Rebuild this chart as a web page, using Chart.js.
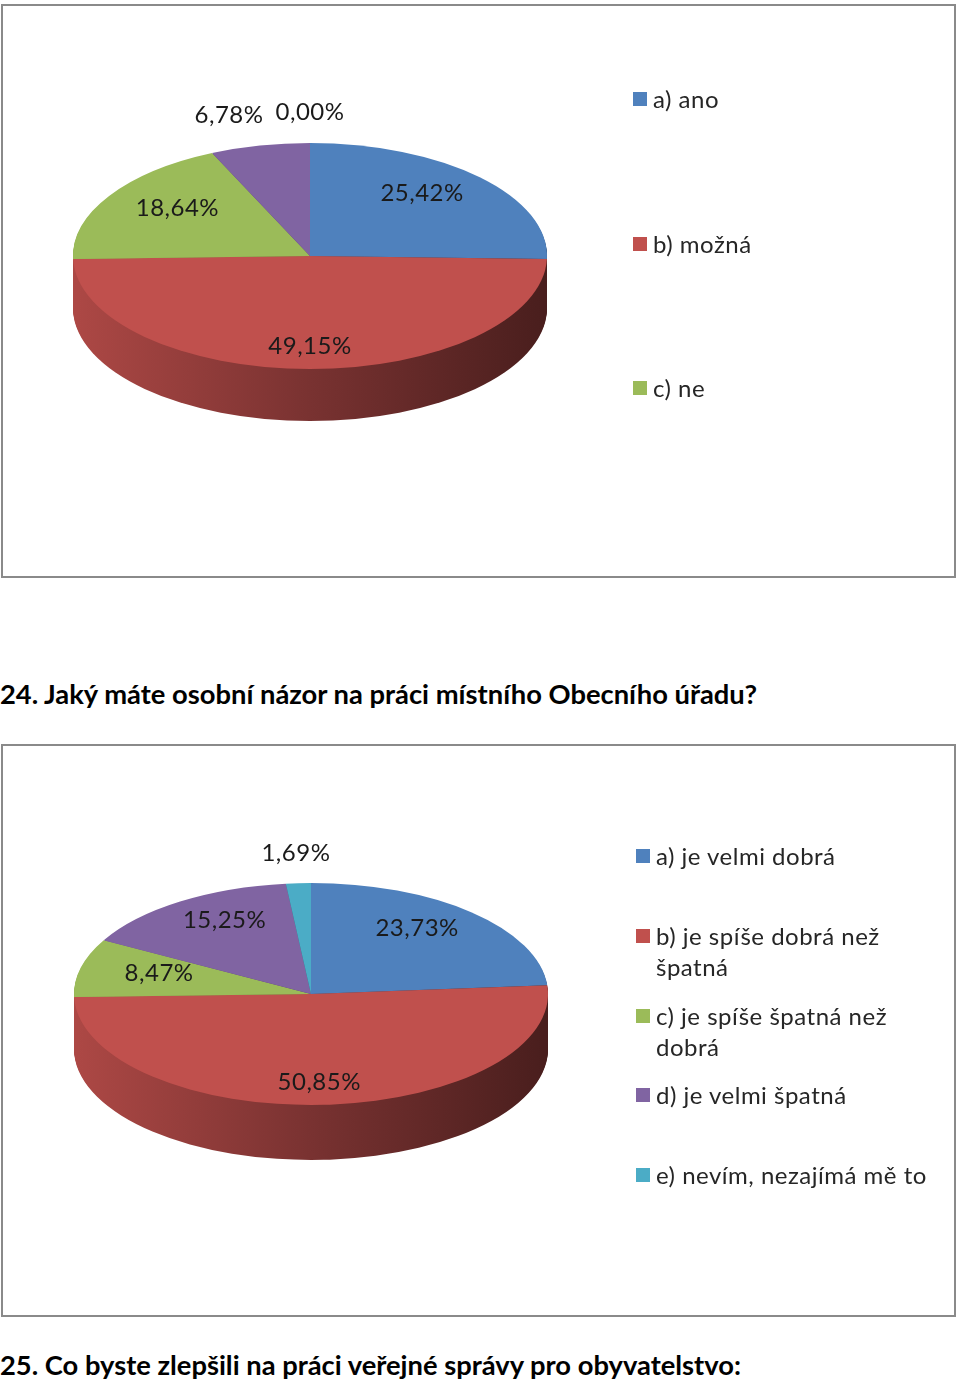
<!DOCTYPE html>
<html>
<head>
<meta charset="utf-8">
<script src="https://cdn.jsdelivr.net/npm/chart.js@4.4.0/dist/chart.umd.min.js"></script>
<style>
  html, body { margin: 0; padding: 0; background: #fff; }
  body { width: 960px; height: 1382px; position: relative; overflow: hidden; font-family: Lato, "Open Sans", sans-serif; }
  .box { position: absolute; border: 2px solid #8a8a8a; box-sizing: border-box; background: #fff; }
  .box canvas { position: absolute; left: 0; top: 0; }
  .li { position: absolute; font-size: 24px; letter-spacing: 0.5px; color: #262626; white-space: nowrap; line-height: 31px; }
  .sw { position: absolute; width: 14px; height: 14px; top: 9px; }
  .title { position: absolute; left: 0; font-weight: bold; font-size: 27px; color: #000; white-space: nowrap; transform-origin: 0 50%; line-height: 30px; }
</style>
</head>
<body>
<div id="root"></div>
<script>
// ---------- data ----------
const sliceColors = ['#4F81BD', '#C0504D', '#9BBB59', '#8064A2', '#4BACC6'];

const categories1 = ['a) ano', 'b) možná', 'c) ne', '', ''];
const values1 = [25.42, 49.15, 18.64, 6.78, 0.00];

const categories2 = [
  'a) je velmi dobrá',
  ['b) je spíše dobrá než', 'špatná'],
  ['c) je spíše špatná než', 'dobrá'],
  'd) je velmi špatná',
  'e) nevím, nezajímá mě to'
];
const values2 = [23.73, 50.85, 8.47, 15.25, 1.69];

const title1 = '24. Jaký máte osobní názor na práci místního Obecního úřadu?';
const title2 = '25. Co byste zlepšili na práci veřejné správy pro obyvatelstvo:';

// ---------- layout ----------
const layouts = [
  { box: { x: 1, y: 4, w: 955, h: 574 }, cx: 310, cy: 256, rx: 237, ry: 113, depth: 52,
    legend: { x: 633, y0: 99, step: 144.5, textX: 653 } },
  { box: { x: 1, y: 744, w: 955, h: 573 }, cx: 311, cy: 994, rx: 237, ry: 111, depth: 55,
    legend: { x: 636, y0: 856, step: 79.8, textX: 656 } }
];
const titles = [ { text: title1, y: 695, width: 757 }, { text: title2, y: 1366, width: 741 } ];

function shade(hex, f) {
  const n = parseInt(hex.slice(1), 16);
  const r = Math.round(((n >> 16) & 255) * f), g = Math.round(((n >> 8) & 255) * f), b = Math.round((n & 255) * f);
  return `rgb(${r},${g},${b})`;
}
function fmt(v) { return v.toFixed(2).replace('.', ',') + '%'; }

function pie3d(L) {
  const ox = L.box.x + 2, oy = L.box.y + 2;
  return {
    id: 'pie3d',
    beforeDatasetsDraw(chart) {
      const ctx = chart.ctx;
      const meta = chart.getDatasetMeta(0);
      const el0 = meta.data[0];
      const R = el0.outerRadius, cyC = el0.y, cxC = el0.x;
      const k = L.ry / R;
      const cyT = L.cy - oy;
      const grads = meta.data.map((el, i) => {
        const g = ctx.createLinearGradient(cxC - R, 0, cxC + R, 0);
        const c = sliceColors[i];
        g.addColorStop(0, shade(c, 0.90));
        g.addColorStop(0.5, shade(c, 0.63));
        g.addColorStop(1, shade(c, 0.38));
        return g;
      });
      for (let d = L.depth; d >= 1; d--) {
        ctx.save();
        ctx.translate(0, cyT + d); ctx.scale(1, k); ctx.translate(0, -cyC);
        meta.data.forEach((el, i) => {
          if (!el.circumference) return;
          const o = el.options;
          el.options = Object.assign({}, o, { backgroundColor: grads[i], borderWidth: 0 });
          el.draw(ctx);
          el.options = o;
        });
        ctx.restore();
      }
      ctx.save();
      ctx.translate(0, cyT); ctx.scale(1, k); ctx.translate(0, -cyC);
    },
    afterDatasetsDraw(chart) {
      const ctx = chart.ctx;
      ctx.restore();
      const meta = chart.getDatasetMeta(0);
      const vals = chart.data.datasets[0].data;
      const cxT = L.cx - ox, cyT = L.cy - oy;
      ctx.font = '24px Lato, "Open Sans", sans-serif';
      try { ctx.letterSpacing = '0.5px'; } catch (e) {}
      ctx.fillStyle = '#1a1a1a';
      ctx.textAlign = 'center';
      ctx.textBaseline = 'middle';
      const labels = meta.data.map((el, i) => {
        const a = (el.startAngle + el.endAngle) / 2;
        const v = vals[i];
        const outside = v < 7;
        const fx = outside ? 1.2 : 0.66, fy = outside ? 1.27 : 0.80;
        const t = fmt(v);
        return { t, x: cxT + L.rx * fx * Math.cos(a), y: cyT + L.ry * fy * Math.sin(a), w: ctx.measureText(t).width, outside };
      });
      // simple collision avoidance for outside labels
      const outs = labels.filter(l => l.outside).sort((p, q) => q.x - p.x);
      for (let i = 1; i < outs.length; i++) {
        const right = outs[i - 1], left = outs[i];
        const minGap = (right.w + left.w) / 2 + 12;
        if (Math.abs(right.y - left.y) < 24 && right.x - left.x < minGap) left.x = right.x - minGap;
      }
      labels.forEach(l => ctx.fillText(l.t, l.x, l.y));
    }
  };
}

const root = document.getElementById('root');
[[categories1, values1], [categories2, values2]].forEach(([cats, vals], idx) => {
  const L = layouts[idx];
  const box = document.createElement('div');
  box.className = 'box';
  Object.assign(box.style, { left: L.box.x + 'px', top: L.box.y + 'px', width: L.box.w + 'px', height: L.box.h + 'px' });
  root.appendChild(box);
  const W = L.box.w - 4, H = L.box.h - 4;
  const cv = document.createElement('canvas');
  cv.width = W; cv.height = H;
  cv.style.width = W + 'px'; cv.style.height = H + 'px';
  box.appendChild(cv);
  const cxC = L.cx - (L.box.x + 2);
  const padL = cxC - L.rx, padR = W - padL - 2 * L.rx;
  new Chart(cv, {
    type: 'pie',
    data: {
      labels: cats,
      datasets: [{ data: vals, backgroundColor: sliceColors, borderWidth: 0, hoverOffset: 0, offset: 0, clip: false }]
    },
    options: {
      responsive: false, animation: false, events: [],
      layout: { padding: { left: padL, right: padR, top: 10, bottom: H - 10 - 2 * L.rx - 6 } },
      plugins: { legend: { display: false }, tooltip: { enabled: false } }
    },
    plugins: [pie3d(L)]
  });
  // legend (HTML text)
  cats.forEach((c, i) => {
    const lines = Array.isArray(c) ? c : [c];
    if (!lines.join('')) return;
    const li = document.createElement('div');
    li.className = 'li';
    li.style.left = L.legend.x + 'px';
    li.style.top = (L.legend.y0 + i * L.legend.step - 16) + 'px';
    const sw = document.createElement('span');
    sw.className = 'sw';
    sw.style.background = sliceColors[i];
    sw.style.left = '0px';
    li.appendChild(sw);
    const tx = document.createElement('div');
    tx.style.marginLeft = (L.legend.textX - L.legend.x) + 'px';
    lines.forEach((ln, j) => { if (j) tx.appendChild(document.createElement('br')); tx.appendChild(document.createTextNode(ln)); });
    li.appendChild(tx);
    document.body.appendChild(li);
  });
});

// titles
titles.forEach(T => {
  const d = document.createElement('div');
  d.className = 'title';
  d.textContent = T.text;
  d.style.top = (T.y - 16) + 'px';
  document.body.appendChild(d);
  const w = d.getBoundingClientRect().width;
  d.style.transform = `scaleX(${T.width / w})`;
});
</script>
</body>
</html>
